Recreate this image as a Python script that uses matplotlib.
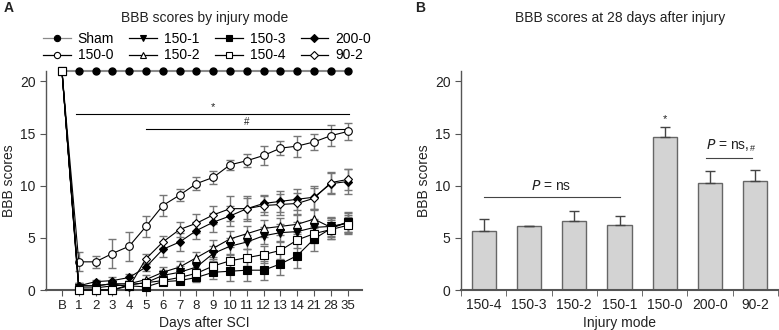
import numpy as np
import matplotlib.pyplot as plt
from matplotlib.lines import Line2D

# ---- data (panel A) ----
days = ['B', '1', '2', '3', '4', '5', '6', '7', '8', '9', '10', '11', '12', '13', '14', '21', '28', '35']

sham = [21] * 18
m150_0 = [21, 2.7, 2.7, 3.5, 4.2, 6.1, 8.1, 9.1, 10.2, 10.8, 12.0, 12.4, 12.9, 13.6, 13.8, 14.2, 14.8, 15.2]
e150_0 = [0, 0.9, 0.6, 1.4, 1.4, 1.0, 1.0, 0.6, 0.6, 0.6, 0.5, 0.6, 0.9, 0.7, 1.0, 0.8, 1.0, 0.8]
m200_0 = [21, 0.4, 0.8, 0.9, 1.2, 2.2, 3.9, 4.6, 5.7, 6.5, 7.1, 7.8, 8.3, 8.5, 8.7, 8.9, 10.2, 10.4]
e200_0 = [0, 0.3, 0.2, 0.3, 0.3, 0.4, 0.7, 0.9, 0.8, 0.9, 1.0, 1.0, 0.8, 1.0, 1.0, 1.1, 1.0, 1.2]
m90_2 = [21, 0.4, 0.4, 0.6, 0.3, 3.0, 4.6, 5.8, 6.4, 7.2, 7.8, 7.8, 8.1, 8.2, 8.3, 8.8, 10.3, 10.6]
e90_2 = [0, 0.3, 0.3, 0.3, 0.3, 0.5, 0.6, 0.7, 0.9, 0.9, 1.2, 1.2, 0.9, 1.0, 1.0, 1.0, 1.0, 1.0]
m150_2 = [21, 0.4, 0.4, 0.6, 0.6, 1.0, 1.7, 2.2, 3.1, 4.0, 4.9, 5.4, 5.9, 6.1, 6.3, 6.8, 6.0, 6.5]
e150_2 = [0, 0.3, 0.3, 0.3, 0.3, 0.4, 0.5, 0.6, 0.5, 0.8, 0.8, 0.7, 0.8, 0.8, 0.9, 0.9, 0.9, 0.9]
m150_1 = [21, 0.2, 0.2, 0.4, 0.5, 0.7, 1.4, 1.7, 2.2, 3.5, 4.2, 4.6, 5.2, 5.5, 5.6, 6.0, 6.1, 6.4]
e150_1 = [0, 0.2, 0.2, 0.2, 0.3, 0.4, 0.5, 0.6, 0.6, 0.7, 0.8, 0.7, 0.8, 0.8, 0.9, 0.8, 0.9, 0.8]
m150_4 = [21, 0.0, 0.0, 0.0, 0.5, 0.7, 0.9, 1.2, 1.6, 2.3, 2.8, 3.1, 3.4, 3.8, 4.8, 5.4, 5.8, 6.2]
e150_4 = [0, 0, 0, 0, 0.2, 0.3, 0.3, 0.4, 0.5, 0.7, 0.7, 0.8, 0.8, 0.8, 0.8, 0.9, 0.9, 0.8]
m150_3 = [21, 0.0, 0.0, 0.0, 0.4, 0.3, 0.8, 0.9, 1.2, 1.7, 1.8, 1.9, 1.9, 2.5, 3.3, 4.9, 5.9, 6.5]
e150_3 = [0, 0, 0, 0, 0.2, 0.2, 0.3, 0.3, 0.4, 0.6, 0.9, 1.0, 0.9, 1.1, 1.2, 1.2, 1.0, 1.0]

# ---- data (panel B) ----
modes = ['150-4', '150-3', '150-2', '150-1', '150-0', '200-0', '90-2']
bbb28 = [5.7, 6.1, 6.6, 6.2, 14.7, 10.3, 10.5]
bbb28_err = [1.1, 0.0, 1.0, 0.9, 0.9, 1.1, 1.0]

plt.rcParams['font.family'] = ['Liberation Sans', 'DejaVu Sans']
plt.rcParams['font.size'] = 10
txt = '#222222'
spine_c = '#555555'
grey_err = '#777777'

fig = plt.figure(figsize=(7.79, 3.30), dpi=100)
axA = fig.add_axes([46/779, 40/330, 316/779, 219/330])
axB = fig.add_axes([461/779, 40/330, 317/779, 219/330])

x = np.arange(len(days))

# sham: grey line, black dots
axA.plot(x, sham, color='#8a8a8a', lw=1.5, marker='o', ms=5, mfc='black', mec='black', zorder=3, clip_on=False)

series = [
    ('150-0', m150_0, e150_0, 'o', 'white'),
    ('200-0', m200_0, e200_0, 'D', 'black'),
    ('90-2', m90_2, e90_2, 'D', 'white'),
    ('150-2', m150_2, e150_2, '^', 'white'),
    ('150-1', m150_1, e150_1, 'v', 'black'),
    ('150-3', m150_3, e150_3, 's', 'black'),
    ('150-4', m150_4, e150_4, 's', 'white'),
]
for i, (name, m, e, mk, fc) in enumerate(series):
    ms = 4.5 if mk == 'D' else 5.5
    axA.errorbar(x, m, yerr=e, fmt='none', ecolor=grey_err, elinewidth=1, capsize=3, capthick=1, zorder=2)
    axA.plot(x, m, color='black', lw=0.8, marker=mk, ms=ms, mfc=fc, mec='black', mew=0.8,
             zorder=4 + i * 0.1, clip_on=False)

# significance bars
axA.plot([0.85, 17.1], [16.9, 16.9], color='black', lw=0.8)
axA.text(9.0, 17.1, '*', ha='center', va='bottom', fontsize=8, color=txt)
axA.plot([5.0, 17.1], [15.4, 15.4], color='black', lw=0.8)
axA.text(11.0, 15.6, '#', ha='center', va='bottom', fontsize=7, color=txt)

axA.set_xlim(-0.95, 17.85)
axA.set_ylim(0, 21)
axA.set_xticks(x)
axA.set_xticklabels(days)
axA.set_yticks([0, 5, 10, 15, 20])
axA.set_xlabel('Days after SCI', color=txt, fontsize=10)
axA.set_ylabel('BBB scores', color=txt, fontsize=10, labelpad=3)

# legend
handles = []
leg_def = [('Sham', 'o', 'black', '#8a8a8a'), ('150-0', 'o', 'white', 'black'),
           ('150-1', 'v', 'black', 'black'), ('150-2', '^', 'white', 'black'),
           ('150-3', 's', 'black', 'black'), ('150-4', 's', 'white', 'black'),
           ('200-0', 'D', 'black', 'black'), ('90-2', 'D', 'white', 'black')]
for name, mk, fc, lc in leg_def:
    handles.append(Line2D([], [], color=lc, lw=0.9, marker=mk, ms=4.5, mfc=fc, mec='black', mew=0.8, label=name))
fig.legend(handles=handles, ncol=4, loc='center', bbox_to_anchor=(207/779, 1 - 47/330),
           frameon=False, fontsize=10, handlelength=2.0, handletextpad=0.5,
           columnspacing=1.1, labelspacing=0.2, borderpad=0)

# ---- panel B ----
xb = np.arange(len(modes))
axB.bar(xb, bbb28, width=0.53, color='#d3d3d3', edgecolor='#666666', lw=1.0, zorder=2)
axB.errorbar(xb, bbb28, yerr=[np.zeros(len(bbb28)), bbb28_err], fmt='none', ecolor='#444444',
             elinewidth=1, capsize=3.5, capthick=1, zorder=3)
axB.plot([0, 3], [8.9, 8.9], color='#444444', lw=0.8)
axB.text(1.5, 9.3, r'$P$ = ns', ha='center', va='bottom', fontsize=10, color=txt)
axB.plot([4.9, 5.92], [12.7, 12.7], color='#444444', lw=0.8)
axB.text(5.38, 13.1, r'$P$ = ns,', ha='center', va='bottom', fontsize=10, color=txt)
axB.text(5.87, 13.1, '#', ha='left', va='bottom', fontsize=6.5, color=txt)
axB.text(4, 15.9, '*', ha='center', va='bottom', fontsize=8, color=txt)

axB.set_xlim(-0.5, 6.5)
axB.set_ylim(0, 21)
axB.set_xticks(xb)
axB.set_xticklabels(modes)
axB.set_xticks(np.arange(-0.5, 7, 1), minor=True)
axB.tick_params(axis='x', which='major', length=0, pad=6)
axB.tick_params(axis='x', which='minor', length=4, color=spine_c)
axB.set_yticks([0, 5, 10, 15, 20])
axB.set_xlabel('Injury mode', color=txt, fontsize=10)
axB.set_ylabel('BBB scores', color=txt, fontsize=10, labelpad=3)

for ax in (axA, axB):
    ax.spines['top'].set_visible(False)
    ax.spines['right'].set_visible(False)
    ax.spines['left'].set_color(spine_c)
    ax.spines['bottom'].set_color(spine_c)
    ax.spines['left'].set_linewidth(1.0)
    ax.spines['bottom'].set_linewidth(1.5)
    ax.tick_params(axis='y', direction='out', length=4, color=spine_c, labelcolor=txt, labelsize=10)
    ax.tick_params(axis='x', labelcolor=txt, labelsize=10)
    # x label: top edge about 316 px from the top of the figure
    ax.xaxis.set_label_coords(0.5, -26/219)
axA.tick_params(axis='x', direction='out', length=4, color=spine_c, pad=3, labelsize=9.5)

fig.text(205/779, 1 - 18/330, 'BBB scores by injury mode', ha='center', va='center', fontsize=10, color=txt)
fig.text(620/779, 1 - 18/330, 'BBB scores at 28 days after injury', ha='center', va='center', fontsize=10, color=txt)
fig.text(4/779, 1 - 8/330, 'A', ha='left', va='center', fontsize=10, fontweight='bold', color=txt)
fig.text(415/779, 1 - 8/330, 'B', ha='left', va='center', fontsize=10, fontweight='bold', color=txt)

fig.savefig('out.png', dpi=100)
